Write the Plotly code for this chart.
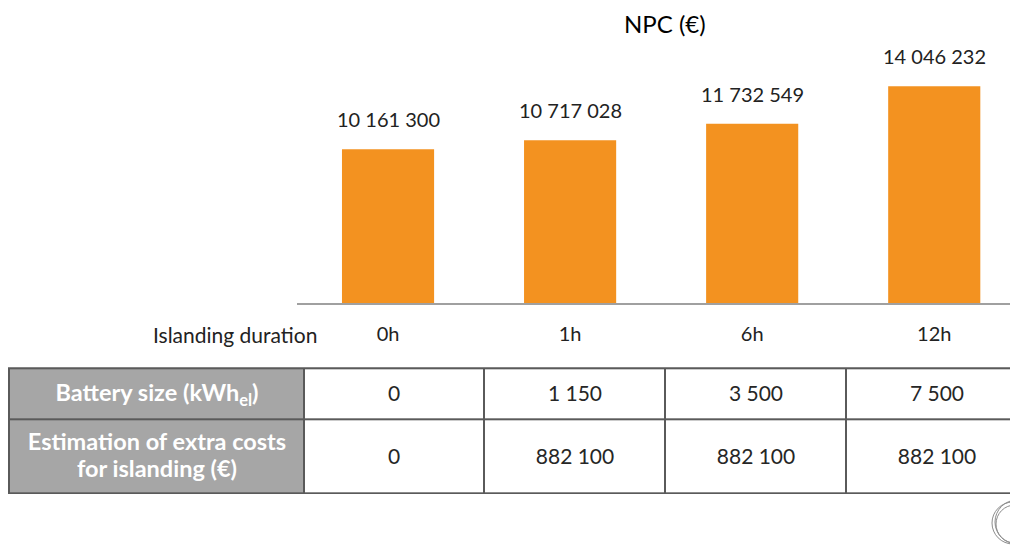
import plotly.graph_objects as go

# ---- data ----
categories = ["0h", "1h", "6h", "12h"]
npc_values = [10161300, 10717028, 11732549, 14046232]
row_labels = ["Battery size (kWh<sub>el</sub>)", "Estimation of extra costs<br>for islanding (€)"]
battery_size = [0, 1150, 3500, 7500]
extra_costs = [0, 882100, 882100, 882100]
axis_label = "Islanding duration"
title_text = "NPC (€)"

# ---- layout constants ----
OFF = 8  # page body margin
W, H = 1018 - OFF, 545 - OFF
FONT = "Lato"
ORANGE = "#F39220"
DARK = "#222222"
GRID = "#5a5a5a"
GREY = "#a6a6a6"


def fmt(v):
    return f"{v:,}".replace(",", " ")


def px_x(p):
    return (p - OFF) / W


def px_y(p):
    return 1 - (p - OFF) / H


fig = go.Figure()

# bar chart
fig.add_trace(go.Bar(
    x=categories, y=npc_values, marker=dict(color=ORANGE, line=dict(width=0)),
    width=0.506, hoverinfo="skip", xaxis="x", yaxis="y", showlegend=False,
))

annotations = []
for c, v in zip(categories, npc_values):
    annotations.append(dict(
        x=c, y=v, xref="x", yref="y", text=fmt(v), showarrow=False,
        yanchor="bottom", yshift=16, font=dict(family=FONT, size=20, color=DARK),
    ))
annotations.append(dict(
    x=px_x(319), y=px_y(334), xref="paper", yref="paper", text=axis_label,
    showarrow=False, xanchor="right", yanchor="middle",
    font=dict(family=FONT, size=21, color=DARK),
))
annotations.append(dict(
    x=px_x(665), y=1, xref="paper", yref="paper", text=title_text,
    showarrow=False, xanchor="center", yanchor="top", borderpad=0,
    font=dict(family=FONT, size=24, color="black"),
))

# table as heatmap bricks
col_widths = [295, 180, 181, 181, 182]
row_heights = [50.4, 74]
x_edges = [0]
for w in col_widths:
    x_edges.append(x_edges[-1] + w)
y_edges = [0]
for h in row_heights:
    y_edges.append(y_edges[-1] + h)

rows = [battery_size, extra_costs]
z = []
text = []
for lab, vals in zip(row_labels, rows):
    z.append([0] + [1] * len(vals))
    text.append([f"<span style='color:white;font-size:23.5px'><b>{lab}</b></span>"] + [fmt(v) for v in vals])

fig.add_trace(go.Heatmap(
    x=x_edges, y=y_edges, z=z, text=text, texttemplate="%{text}",
    textfont=dict(family=FONT, size=21, color="#262626"),
    colorscale=[[0, GREY], [1, "white"]], zmin=0, zmax=1, showscale=False,
    xgap=2, ygap=2, hoverinfo="skip", xaxis="x2", yaxis="y2",
))

shapes = [dict(type="rect", xref="x2 domain", yref="y2 domain", x0=0, x1=1, y0=0, y1=1,
               fillcolor=GRID, line=dict(width=0), layer="below")]
# decorative logo (bottom-right corner)
for cx, cy, r in [(1013, 523, 21), (1015, 524, 19), (1017, 522, 22)]:
    shapes.append(dict(type="circle", xref="paper", yref="paper",
                       x0=px_x(cx - r), x1=px_x(cx + r), y0=px_y(cy + r), y1=px_y(cy - r),
                       line=dict(color="#8c8c8c", width=1)))

units_per_px = (npc_values[3] - npc_values[0]) / 63.0
y_min = npc_values[0] - 154 * units_per_px
base_px = 303.3
top_px = OFF

fig.update_layout(
    width=W, height=H, margin=dict(l=0, r=0, t=0, b=0),
    paper_bgcolor="white", plot_bgcolor="rgba(0,0,0,0)",
    xaxis=dict(domain=[px_x(297), 1], range=[-0.5, 3.46], showgrid=False, zeroline=False,
               showline=True, linecolor="#a0a0a0", linewidth=2, ticks="",
               tickfont=dict(family=FONT, size=20, color=DARK), ticklabelstandoff=12,
               anchor="y", fixedrange=True),
    yaxis=dict(domain=[px_y(base_px), 1],
               range=[y_min, y_min + (base_px - top_px) * units_per_px],
               visible=False, fixedrange=True),
    xaxis2=dict(domain=[0, 1], range=[-1, 1009], visible=False, anchor="y2", fixedrange=True),
    yaxis2=dict(domain=[px_y(494), px_y(367.3)], range=[125.4, -1], visible=False,
                anchor="x2", fixedrange=True),
    annotations=annotations, shapes=shapes, showlegend=False,
)

fig.write_html("out.html")
